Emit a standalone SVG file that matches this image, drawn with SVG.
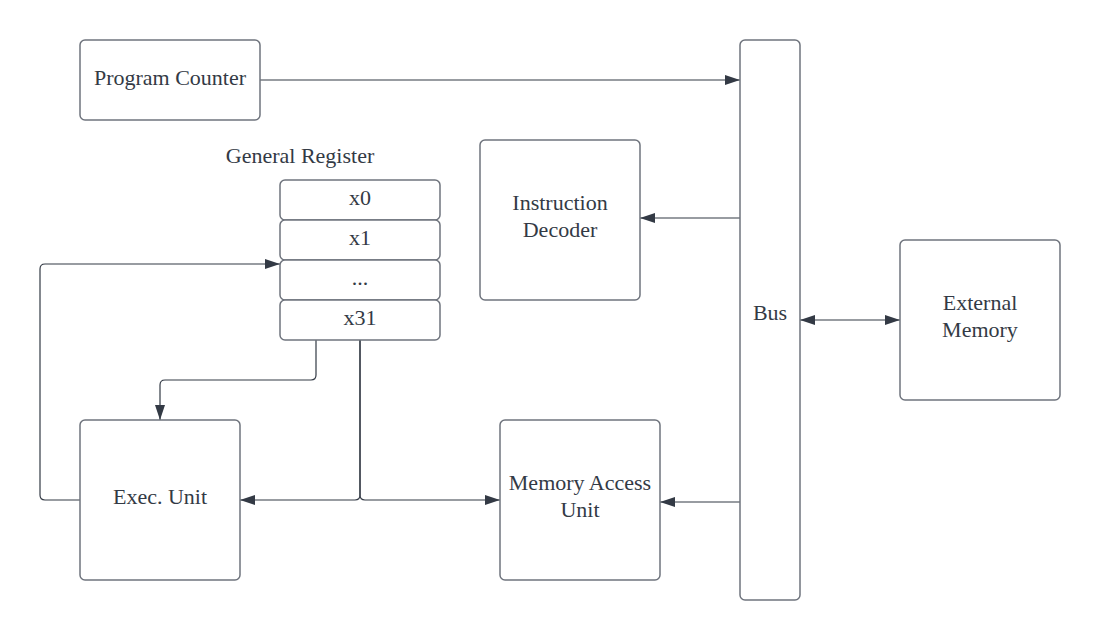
<svg xmlns="http://www.w3.org/2000/svg" width="1101" height="640" viewBox="0 0 1101 640">
<defs>
<marker id="arr" markerUnits="userSpaceOnUse" markerWidth="16" markerHeight="12" viewBox="0 0 16 12" refX="15" refY="6" orient="auto-start-reverse">
<path d="M0,1 L15,6 L0,11 z" fill="#333a45"/>
</marker>
<style>
.box{fill:#ffffff;stroke:#6f747d;stroke-width:1.5}
.t{font-family:"Liberation Serif","Times New Roman",serif;font-size:22px;fill:#333a45;text-anchor:middle}
.c{fill:none;stroke:#333a45;stroke-width:1.2}
</style>
</defs>
<rect width="1101" height="640" fill="#ffffff"/>
<g id="connectors">
<path class="c" d="M260,80 L740,80" marker-end="url(#arr)"/>
<path class="c" d="M740,218 L640,218" marker-end="url(#arr)"/>
<path class="c" d="M800,320 L900,320" marker-start="url(#arr)" marker-end="url(#arr)"/>
<path class="c" d="M740,502 L660,502" marker-end="url(#arr)"/>
<path class="c" d="M360,340 L360,495 Q360,500 355,500 L240,500" marker-end="url(#arr)"/>
<path class="c" d="M360,340 L360,495 Q360,500 365,500 L500,500" marker-end="url(#arr)"/>
<path class="c" d="M316,340 L316,375 Q316,380 311,380 L165,380 Q160,380 160,385 L160,420" marker-end="url(#arr)"/>
<path class="c" d="M80,500 L45,500 Q40,500 40,495 L40,269 Q40,264 45,264 L280,264" marker-end="url(#arr)"/>
</g>
<g id="program-counter">
<rect class="box" x="80" y="40" width="180" height="80" rx="5"/>
<text class="t" x="170" y="85">Program Counter</text>
</g>
<g id="general-register">
<text class="t" x="300" y="163">General Register</text>
</g>
<g id="reg-x0">
<rect class="box" x="280" y="180" width="160" height="40" rx="5"/>
<text class="t" x="360" y="205">x0</text>
</g>
<g id="reg-x1">
<rect class="box" x="280" y="220" width="160" height="40" rx="5"/>
<text class="t" x="360" y="245">x1</text>
</g>
<g id="reg-dots">
<rect class="box" x="280" y="260" width="160" height="40" rx="5"/>
<text class="t" x="360" y="285">...</text>
</g>
<g id="reg-x31">
<rect class="box" x="280" y="300" width="160" height="40" rx="5"/>
<text class="t" x="360" y="325">x31</text>
</g>
<g id="instruction-decoder">
<rect class="box" x="480" y="140" width="160" height="160" rx="5"/>
<text class="t" x="560" y="210">Instruction</text>
<text class="t" x="560" y="237">Decoder</text>
</g>
<g id="bus">
<rect class="box" x="740" y="40" width="60" height="560" rx="5"/>
<text class="t" x="770" y="320">Bus</text>
</g>
<g id="external-memory">
<rect class="box" x="900" y="240" width="160" height="160" rx="5"/>
<text class="t" x="980" y="310">External</text>
<text class="t" x="980" y="337">Memory</text>
</g>
<g id="exec-unit">
<rect class="box" x="80" y="420" width="160" height="160" rx="5"/>
<text class="t" x="160" y="504">Exec. Unit</text>
</g>
<g id="memory-access-unit">
<rect class="box" x="500" y="420" width="160" height="160" rx="5"/>
<text class="t" x="580" y="490">Memory Access</text>
<text class="t" x="580" y="517">Unit</text>
</g>
</svg>
